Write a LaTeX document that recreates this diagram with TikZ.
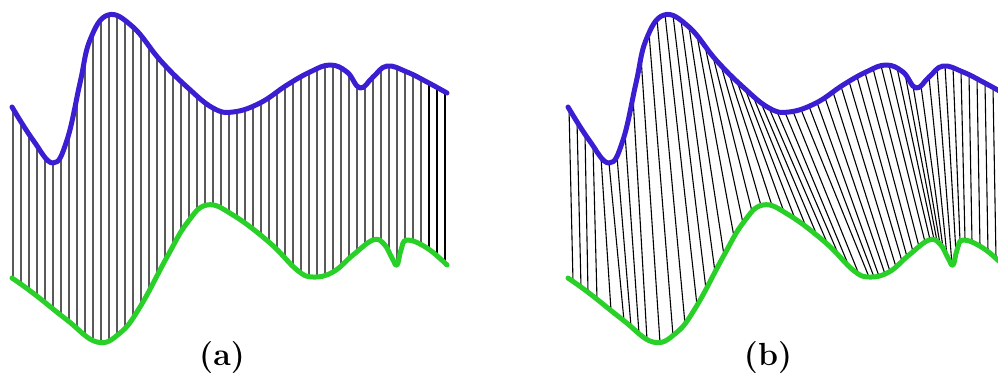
\documentclass[tikz,border=0pt]{standalone}
\usetikzlibrary{intersections,backgrounds}
\definecolor{seqblue}{RGB}{60,30,210}
\definecolor{seqgreen}{RGB}{40,208,40}
\tikzset{
    series/.style = {line width = 5pt, line cap = round, line join = round},
    link/.style = {black, line width = 1.1pt},
    caption/.style = {font = \fontsize{32}{36}\selectfont\bfseries}
}
\begin{document}
\begin{tikzpicture}[x = 1pt, y = -1pt]
    \useasboundingbox (0, 0) rectangle (998, 376);
    \clip (0, 0) rectangle (998, 376);
    % (a) point to point
    \draw[series, seqblue, name path = bluea] plot[smooth, tension = 0.7] coordinates {(12,107) (33,140) (53,163) (67,140) (80,83) (90,40) (108,15) (133,27) (160,60) (187,87) (213,108) (233,112) (260,103) (287,85) (310,72) (330,65) (347,72) (360,88) (373,77) (387,66) (407,72) (427,82) (447,93)};
    \draw[series, seqgreen, name path = greena] plot[smooth, tension = 0.7] coordinates {(12,278) (33,293) (67,320) (97,342) (120,333) (140,307) (167,257) (187,223) (207,205) (233,215) (270,243) (297,270) (313,277) (333,272) (353,255) (373,240) (384,244) (392,258) (397,265) (401,250) (407,240) (427,248) (447,265)};
    \begin{scope}[on background layer]
        \foreach \k in {0,...,54}{
            \pgfmathsetmacro{\u}{13 + 8*\k}
            \path[name path = vl] (\u, 0) -- (\u, 376);
            \path[name intersections = {of = bluea and vl, by = ta\k}];
            \path[name intersections = {of = greena and vl, by = ga\k}];
            \draw[link] (ta\k) -- (ga\k);
        }
    \end{scope}
    % (b) warped
    \begin{scope}[xshift = 556pt]
        \draw[series, seqblue, name path = blueb] plot[smooth, tension = 0.7] coordinates {(12,107) (33,140) (53,163) (67,140) (80,83) (90,40) (108,15) (133,27) (160,60) (187,87) (213,108) (233,112) (260,103) (287,85) (310,72) (330,65) (347,72) (360,88) (373,77) (387,66) (407,72) (427,82) (447,93)};
        \draw[series, seqgreen, name path = greenb] plot[smooth, tension = 0.7] coordinates {(12,278) (33,293) (67,320) (97,342) (120,333) (140,307) (167,257) (187,223) (207,205) (233,215) (270,243) (297,270) (313,277) (333,272) (353,255) (373,240) (384,244) (392,258) (397,265) (401,250) (407,240) (427,248) (447,265)};
        \begin{scope}[on background layer]
            \foreach \u/\v [count = \k] in {13/17, 21/25, 29/32, 37/41, 45/55, 53/68, 61/75, 69/83, 77/91, 85/104, 93/117, 101/129, 109/141, 117/150, 125/159, 133/168, 141/178, 149/187, 157/196, 165/205, 173/216, 181/228, 189/239, 197/250, 205/261, 213/272, 221/283, 229/293, 237/303, 245/313, 253/318, 261/323, 269/329, 277/334, 285/340, 293/346, 301/351, 309/357, 317/363, 325/369, 333/374, 341/378, 349/381, 357/384, 365/387, 373/391, 381/396, 389/400, 397/404, 405/409, 413/416, 421/424, 429/432, 437/440, 445/447}{
                \path[name path = vu] (\u, 0) -- (\u, 376);
                \path[name path = vd] (\v, 0) -- (\v, 376);
                \path[name intersections = {of = blueb and vu, by = tb\k}];
                \path[name intersections = {of = greenb and vd, by = gb\k}];
                \draw[link] (tb\k) -- (gb\k);
            }
        \end{scope}
    \end{scope}
    \node[caption] (capa) at (222, 358) {(a)};
    \node[caption] (capb) at (768, 358) {(b)};
\end{tikzpicture}
\end{document}
